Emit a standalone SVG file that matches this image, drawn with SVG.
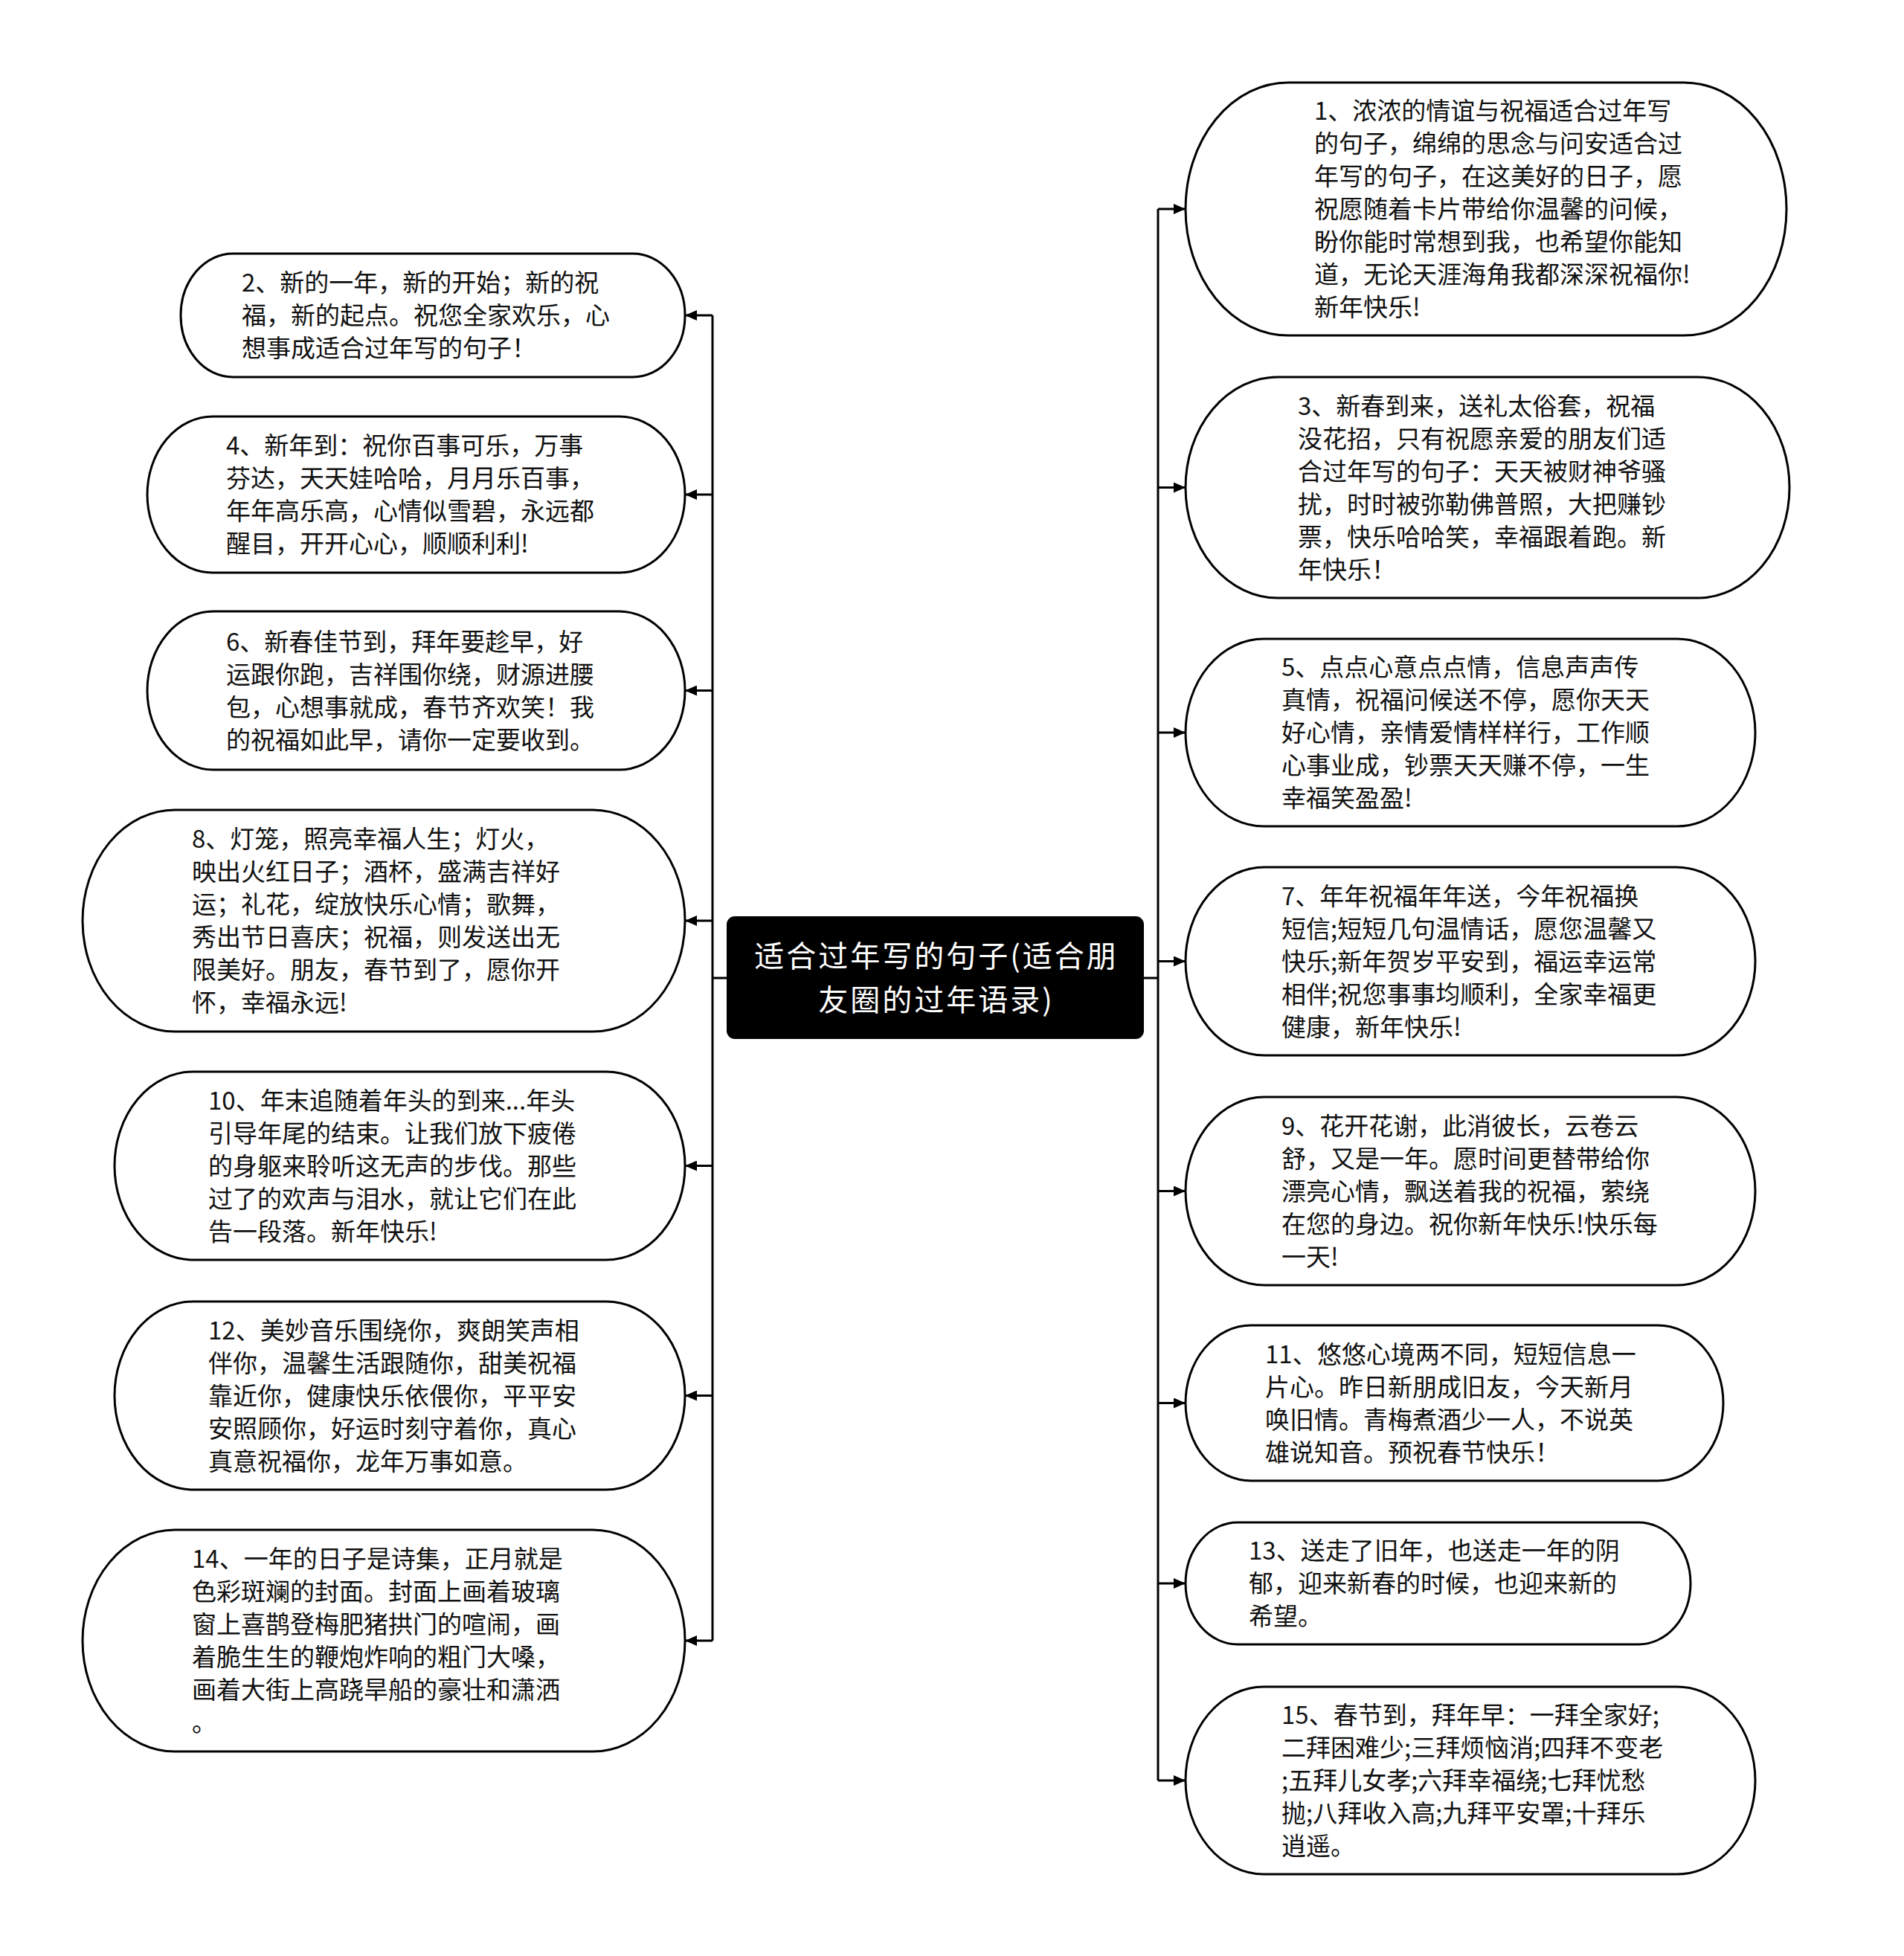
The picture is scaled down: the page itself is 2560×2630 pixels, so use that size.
<svg xmlns="http://www.w3.org/2000/svg" width="2560" height="2630" viewBox="0 0 2560 2630">
<style>
.node rect{fill:#fff;stroke:#000;stroke-width:3}
.node text{font-family:"Noto Sans CJK SC","Noto Sans",sans-serif;font-size:33px;fill:#111}
.center rect{fill:#000;stroke:#000;stroke-width:2}
.center text{font-family:"Noto Sans CJK SC","Noto Sans",sans-serif;font-size:40px;letter-spacing:3px;fill:#fff;text-anchor:middle}
.conn path{fill:none;stroke:#000;stroke-width:3}
</style>
<defs>
<marker id="arr" viewBox="0 0 16 14" refX="16" refY="7" markerWidth="16" markerHeight="14" markerUnits="userSpaceOnUse" orient="auto">
<path d="M0,0 L16,7 L0,14 z" fill="#000"/>
</marker>
</defs>
<rect width="2560" height="2630" fill="#fff"/>
<g class="conn" id="connectors">
<path d="M978,1315 H958 M958,424 V2206"/>
<path d="M958,424 H921" marker-end="url(#arr)"/>
<path d="M958,665 H921" marker-end="url(#arr)"/>
<path d="M958,928.5 H921" marker-end="url(#arr)"/>
<path d="M958,1238 H921" marker-end="url(#arr)"/>
<path d="M958,1567.5 H921" marker-end="url(#arr)"/>
<path d="M958,1876.5 H921" marker-end="url(#arr)"/>
<path d="M958,2206 H921" marker-end="url(#arr)"/>
<path d="M1537,1315 H1557 M1557,281 V2394"/>
<path d="M1557,281 H1594" marker-end="url(#arr)"/>
<path d="M1557,655.5 H1594" marker-end="url(#arr)"/>
<path d="M1557,985 H1594" marker-end="url(#arr)"/>
<path d="M1557,1292.5 H1594" marker-end="url(#arr)"/>
<path d="M1557,1601.5 H1594" marker-end="url(#arr)"/>
<path d="M1557,1886.5 H1594" marker-end="url(#arr)"/>
<path d="M1557,2129 H1594" marker-end="url(#arr)"/>
<path d="M1557,2394 H1594" marker-end="url(#arr)"/>
</g>
<g class="center" id="root">
<rect x="978" y="1233" width="559" height="163" rx="10"/>
<text x="1259" y="1300">适合过年写的句子(适合朋</text>
<text x="1259" y="1359">友圈的过年语录)</text>
</g>
<g class="node" id="n2">
<rect x="243" y="341" width="678" height="166" rx="70" ry="83"/>
<text x="325" y="392">2、新的一年，新的开始；新的祝</text>
<text x="325" y="436">福，新的起点。祝您全家欢乐，心</text>
<text x="325" y="480">想事成适合过年写的句子！</text>
</g>
<g class="node" id="n4">
<rect x="198" y="560" width="723" height="210" rx="88" ry="105"/>
<text x="304" y="611">4、新年到：祝你百事可乐，万事</text>
<text x="304" y="655">芬达，天天娃哈哈，月月乐百事，</text>
<text x="304" y="699">年年高乐高，心情似雪碧，永远都</text>
<text x="304" y="743">醒目，开开心心，顺顺利利!</text>
</g>
<g class="node" id="n6">
<rect x="198" y="822" width="723" height="213" rx="89" ry="106.5"/>
<text x="304" y="874.5">6、新春佳节到，拜年要趁早，好</text>
<text x="304" y="918.5">运跟你跑，吉祥围你绕，财源进腰</text>
<text x="304" y="962.5">包，心想事就成，春节齐欢笑！我</text>
<text x="304" y="1006.5">的祝福如此早，请你一定要收到。</text>
</g>
<g class="node" id="n8">
<rect x="111" y="1089" width="810" height="298" rx="124" ry="149"/>
<text x="258" y="1140">8、灯笼，照亮幸福人生；灯火，</text>
<text x="258" y="1184">映出火红日子；酒杯，盛满吉祥好</text>
<text x="258" y="1228">运；礼花，绽放快乐心情；歌舞，</text>
<text x="258" y="1272">秀出节日喜庆；祝福，则发送出无</text>
<text x="258" y="1316">限美好。朋友，春节到了，愿你开</text>
<text x="258" y="1360">怀，幸福永远!</text>
</g>
<g class="node" id="n10">
<rect x="154" y="1441" width="767" height="253" rx="106" ry="126.5"/>
<text x="280" y="1491.5">10、年末追随着年头的到来...年头</text>
<text x="280" y="1535.5">引导年尾的结束。让我们放下疲倦</text>
<text x="280" y="1579.5">的身躯来聆听这无声的步伐。那些</text>
<text x="280" y="1623.5">过了的欢声与泪水，就让它们在此</text>
<text x="280" y="1667.5">告一段落。新年快乐!</text>
</g>
<g class="node" id="n12">
<rect x="154" y="1750" width="767" height="253" rx="106" ry="126.5"/>
<text x="280" y="1800.5">12、美妙音乐围绕你，爽朗笑声相</text>
<text x="280" y="1844.5">伴你，温馨生活跟随你，甜美祝福</text>
<text x="280" y="1888.5">靠近你，健康快乐依偎你，平平安</text>
<text x="280" y="1932.5">安照顾你，好运时刻守着你，真心</text>
<text x="280" y="1976.5">真意祝福你，龙年万事如意。</text>
</g>
<g class="node" id="n14">
<rect x="111" y="2057" width="810" height="298" rx="124" ry="149"/>
<text x="258" y="2108">14、一年的日子是诗集，正月就是</text>
<text x="258" y="2152">色彩斑斓的封面。封面上画着玻璃</text>
<text x="258" y="2196">窗上喜鹊登梅肥猪拱门的喧闹，画</text>
<text x="258" y="2240">着脆生生的鞭炮炸响的粗门大嗓，</text>
<text x="258" y="2284">画着大街上高跷旱船的豪壮和潇洒</text>
<text x="258" y="2328">。</text>
</g>
<g class="node" id="n1">
<rect x="1594" y="111" width="808" height="340" rx="138" ry="170"/>
<text x="1767" y="161">1、浓浓的情谊与祝福适合过年写</text>
<text x="1767" y="205">的句子，绵绵的思念与问安适合过</text>
<text x="1767" y="249">年写的句子，在这美好的日子，愿</text>
<text x="1767" y="293">祝愿随着卡片带给你温馨的问候，</text>
<text x="1767" y="337">盼你能时常想到我，也希望你能知</text>
<text x="1767" y="381">道，无论天涯海角我都深深祝福你!</text>
<text x="1767" y="425">新年快乐!</text>
</g>
<g class="node" id="n3">
<rect x="1594" y="507" width="812" height="297" rx="124" ry="148.5"/>
<text x="1745" y="557.5">3、新春到来，送礼太俗套，祝福</text>
<text x="1745" y="601.5">没花招，只有祝愿亲爱的朋友们适</text>
<text x="1745" y="645.5">合过年写的句子：天天被财神爷骚</text>
<text x="1745" y="689.5">扰，时时被弥勒佛普照，大把赚钞</text>
<text x="1745" y="733.5">票，快乐哈哈笑，幸福跟着跑。新</text>
<text x="1745" y="777.5">年快乐！</text>
</g>
<g class="node" id="n5">
<rect x="1594" y="859" width="766" height="252" rx="105" ry="126"/>
<text x="1723" y="909">5、点点心意点点情，信息声声传</text>
<text x="1723" y="953">真情，祝福问候送不停，愿你天天</text>
<text x="1723" y="997">好心情，亲情爱情样样行，工作顺</text>
<text x="1723" y="1041">心事业成，钞票天天赚不停，一生</text>
<text x="1723" y="1085">幸福笑盈盈!</text>
</g>
<g class="node" id="n7">
<rect x="1594" y="1166" width="766" height="253" rx="106" ry="126.5"/>
<text x="1723" y="1216.5">7、年年祝福年年送，今年祝福换</text>
<text x="1723" y="1260.5">短信;短短几句温情话，愿您温馨又</text>
<text x="1723" y="1304.5">快乐;新年贺岁平安到，福运幸运常</text>
<text x="1723" y="1348.5">相伴;祝您事事均顺利，全家幸福更</text>
<text x="1723" y="1392.5">健康，新年快乐!</text>
</g>
<g class="node" id="n9">
<rect x="1594" y="1475" width="766" height="253" rx="106" ry="126.5"/>
<text x="1723" y="1525.5">9、花开花谢，此消彼长，云卷云</text>
<text x="1723" y="1569.5">舒，又是一年。愿时间更替带给你</text>
<text x="1723" y="1613.5">漂亮心情，飘送着我的祝福，萦绕</text>
<text x="1723" y="1657.5">在您的身边。祝你新年快乐!快乐每</text>
<text x="1723" y="1701.5">一天!</text>
</g>
<g class="node" id="n11">
<rect x="1594" y="1782" width="723" height="209" rx="88" ry="104.5"/>
<text x="1701" y="1832.5">11、悠悠心境两不同，短短信息一</text>
<text x="1701" y="1876.5">片心。昨日新朋成旧友，今天新月</text>
<text x="1701" y="1920.5">唤旧情。青梅煮酒少一人，不说英</text>
<text x="1701" y="1964.5">雄说知音。预祝春节快乐！</text>
</g>
<g class="node" id="n13">
<rect x="1594" y="2047" width="679" height="164" rx="70" ry="82"/>
<text x="1679" y="2097">13、送走了旧年，也送走一年的阴</text>
<text x="1679" y="2141">郁，迎来新春的时候，也迎来新的</text>
<text x="1679" y="2185">希望。</text>
</g>
<g class="node" id="n15">
<rect x="1594" y="2268" width="766" height="252" rx="105" ry="126"/>
<text x="1723" y="2318">15、春节到，拜年早：一拜全家好;</text>
<text x="1723" y="2362">二拜困难少;三拜烦恼消;四拜不变老</text>
<text x="1723" y="2406">;五拜儿女孝;六拜幸福绕;七拜忧愁</text>
<text x="1723" y="2450">抛;八拜收入高;九拜平安罩;十拜乐</text>
<text x="1723" y="2494">逍遥。</text>
</g>
</svg>
